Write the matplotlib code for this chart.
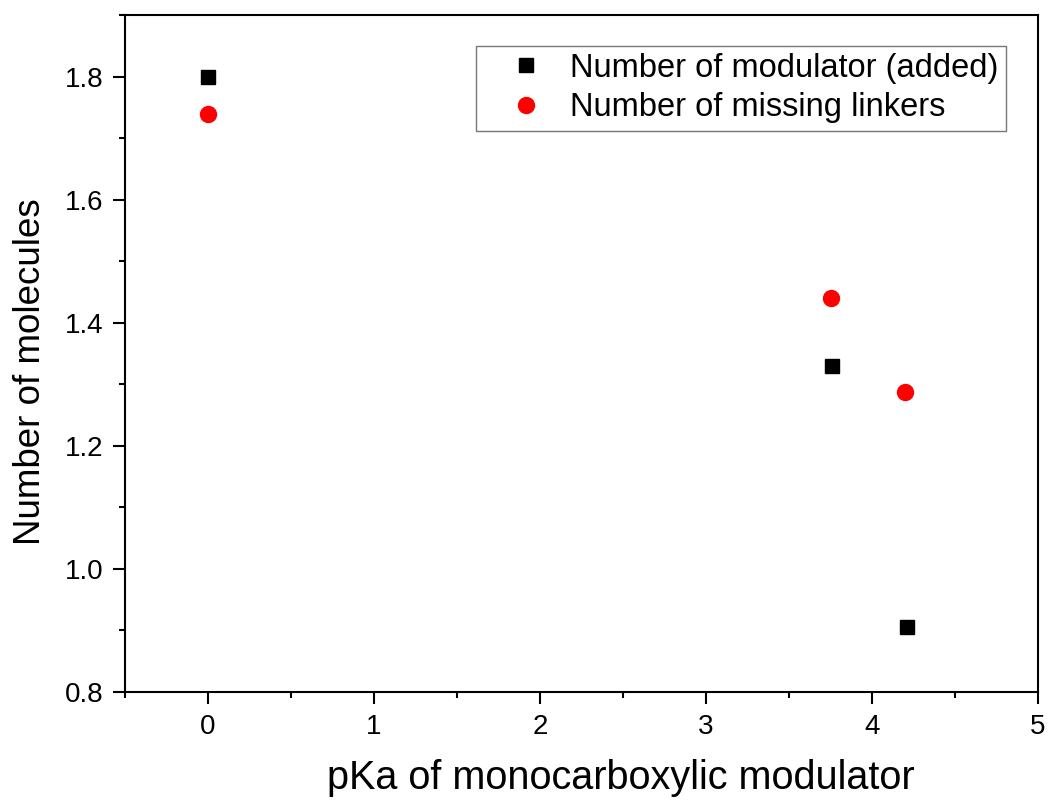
import matplotlib
matplotlib.use("Agg")
import matplotlib.pyplot as plt
from matplotlib.ticker import MultipleLocator

plt.rcParams['font.family'] = ['Liberation Sans', 'DejaVu Sans']

pka_added = [0.0, 3.76, 4.21]
n_added = [1.80, 1.33, 0.905]
pka_missing = [0.0, 3.75, 4.20]
n_missing = [1.74, 1.44, 1.288]

fig = plt.figure(figsize=(10.5, 8), dpi=100)
ax = fig.add_axes([0.119, 0.135, 0.8696, 0.846])

ax.plot(pka_added, n_added, 's', color='black', markersize=10.5, linestyle='none',
        label='Number of modulator (added)')
ax.plot(pka_missing, n_missing, 'o', color='red', markersize=11.5, linestyle='none',
        label='Number of missing linkers')

ax.set_xlim(-0.5, 5)
ax.set_ylim(0.8, 1.9)
ax.xaxis.set_major_locator(MultipleLocator(1))
ax.xaxis.set_minor_locator(MultipleLocator(0.5))
ax.yaxis.set_minor_locator(MultipleLocator(0.1))
ax.set_yticks([0.8, 1.0, 1.2, 1.4, 1.6, 1.8])
ax.set_yticklabels(['0.8', '1.0', '1.2', '1.4', '1.6', '1.8'])
ax.tick_params(which='major', direction='out', length=8.5, width=1.5, labelsize=20, pad=7)
ax.tick_params(which='minor', direction='out', length=4.5, width=1.5)
for s in ax.spines.values():
    s.set_linewidth(1.5)

ax.set_xlabel('pKa of monocarboxylic modulator', fontsize=28.5, labelpad=14)
ax.set_ylabel('Number of molecules', fontsize=26.5, labelpad=12)
ax.xaxis.label.set_x(0.543)
ax.yaxis.label.set_y(0.474)

leg = ax.legend(loc='upper right', bbox_to_anchor=(0.9645, 0.955), fontsize=23.5,
                frameon=True, fancybox=False, edgecolor='#555555',
                handletextpad=0.05, borderpad=0.22, labelspacing=0.26, handlelength=2.6,
                borderaxespad=0)
leg.get_frame().set_linewidth(1.0)

fig.savefig('out.png', dpi=100)
